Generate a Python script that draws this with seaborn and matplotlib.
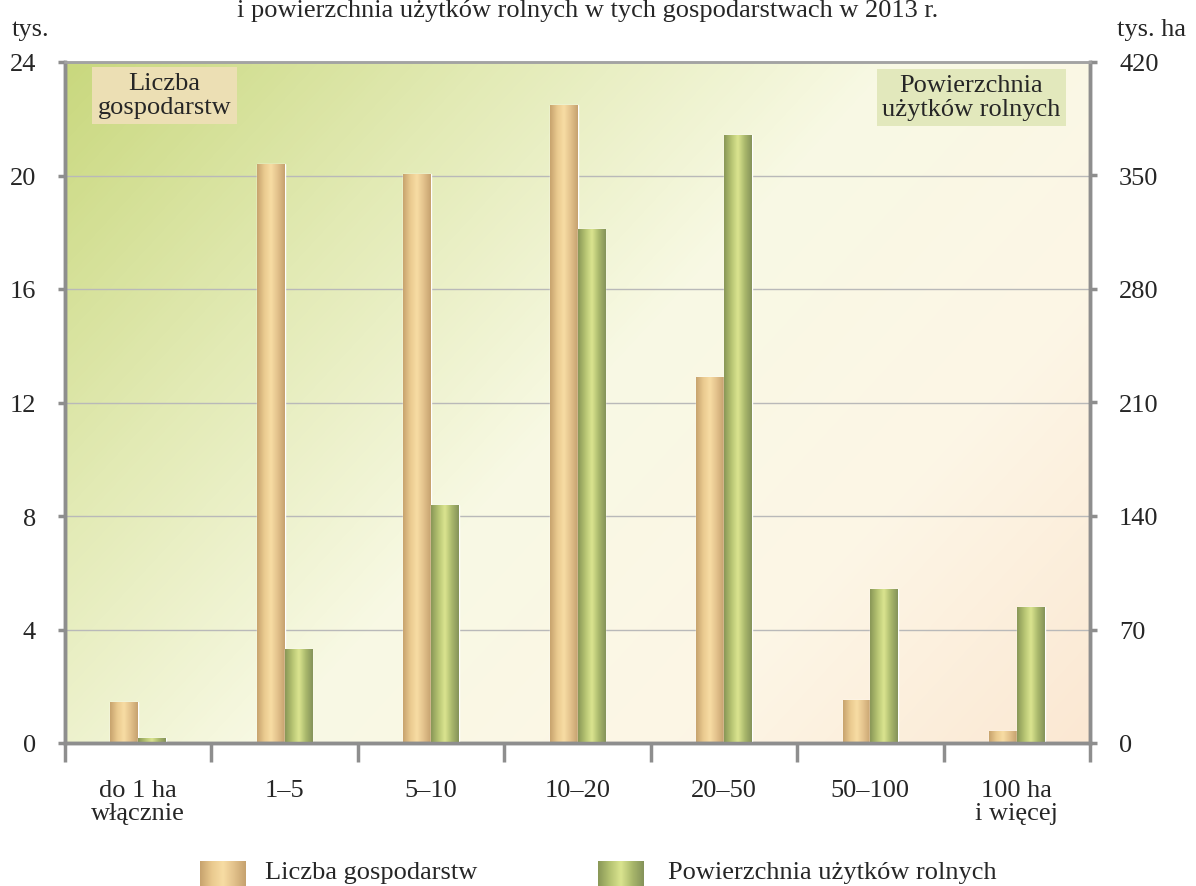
import numpy as np
import pandas as pd
import matplotlib.pyplot as plt
import seaborn as sns
from matplotlib.colors import LinearSegmentedColormap

# dane
kategorie = ['do 1 ha\nwłącznie', '1–5', '5–10', '10–20', '20–50', '50–100', '100 ha\ni więcej']
liczba_gosp = [1.45, 20.4, 20.05, 22.5, 12.9, 1.5, 0.42]      # tys.
powierzchnia = [3, 58, 147, 317, 375, 95, 84]                  # tys. ha
ticki_lewe = [0, 4, 8, 12, 16, 20, 24]
ticki_prawe = [0, 70, 140, 210, 280, 350, 420]
serie = ['Liczba gospodarstw', 'Powierzchnia użytków rolnych']

tytul = 'i powierzchnia użytków rolnych w tych gospodarstwach w 2013 r.'

GRAD_TAN = ['#c7a36e', '#e9c98e', '#f8dda4', '#e2c18b', '#c6a26f']
GRAD_GREEN = ['#899757', '#b4c271', '#dbe590', '#aab86c', '#85935a']
BG_STOPS = ['#c9d87e', '#e2eab4', '#f8f9e4', '#fdf6e6', '#fbe8d3']
SPINE = '#8e8e8e'


def gradient_bars(axis, stops):
    cmap = LinearSegmentedColormap.from_list('bar', stops)
    grad = np.linspace(0, 1, 64).reshape(1, -1)
    for p in list(axis.patches):
        h = p.get_height()
        if not np.isfinite(h) or h <= 0:
            continue
        x0, y0, w = p.get_x(), p.get_y(), p.get_width()
        im = axis.imshow(grad, cmap=cmap, extent=[x0, x0 + w, y0, y0 + h],
                         aspect='auto', zorder=p.get_zorder() + 0.1,
                         interpolation='bicubic')
        im.set_clip_path(p)


def main():
    sns.set_style('white')
    plt.rcParams['font.family'] = ['Liberation Serif', 'DejaVu Serif']
    fs = 19

    fig = plt.figure(figsize=(11.96, 8.87), dpi=100)
    ax = fig.add_axes([65 / 1196, 1 - 744 / 887, 1025 / 1196, 681 / 887])

    # tło z gradientem
    xx, yy = np.meshgrid(np.linspace(0, 1, 300), np.linspace(0, 1, 220))
    u = 0.62 * xx + 0.38 * yy
    bg_cmap = LinearSegmentedColormap.from_list('bg', BG_STOPS)
    ax.imshow(u, cmap=bg_cmap, extent=[0, 1, 0, 1], transform=ax.transAxes,
              aspect='auto', zorder=0, origin='upper', interpolation='bicubic')

    df_l = pd.DataFrame({'kat': kategorie * 2,
                         'seria': [serie[0]] * 7 + [serie[1]] * 7,
                         'wart': liczba_gosp + [0] * 7})
    df_p = pd.DataFrame({'kat': kategorie * 2,
                         'seria': [serie[0]] * 7 + [serie[1]] * 7,
                         'wart': [0] * 7 + powierzchnia})

    sns.barplot(data=df_l, x='kat', y='wart', hue='seria', order=kategorie,
                hue_order=serie, palette=['#e8c990', '#c3cf7e'], width=0.38,
                saturation=1, errorbar=None, legend=False, ax=ax, zorder=2)
    ax2 = ax.twinx()
    sns.barplot(data=df_p, x='kat', y='wart', hue='seria', order=kategorie,
                hue_order=serie, palette=['#e8c990', '#c3cf7e'], width=0.38,
                saturation=1, errorbar=None, legend=False, ax=ax2, zorder=2)

    gradient_bars(ax, GRAD_TAN)
    gradient_bars(ax2, GRAD_GREEN)

    for a in (ax, ax2):
        a.set_xlim(-0.5, 6.5)
        a.set_xlabel('')
        a.set_ylabel('')
    ax.set_ylim(0, 24)
    ax2.set_ylim(0, 420)
    ax.set_yticks(ticki_lewe)
    ax2.set_yticks(ticki_prawe)

    ax.set_axisbelow(True)
    ax.grid(axis='y', color='#b9b9b9', linewidth=1.0, zorder=0.5)
    ax.grid(axis='x', visible=False)
    ax2.grid(False)

    # etykiety kategorii w środku, kreski na granicach
    ax.set_xticks(range(len(kategorie)))
    ax.set_xticklabels(kategorie, fontsize=fs, linespacing=1.05)
    ax.set_xticks(np.arange(-0.5, 7, 1), minor=True)
    ax.tick_params(axis='x', which='major', length=0, pad=26)
    ax.tick_params(axis='x', which='minor', length=14, width=2.5,
                   color=SPINE, direction='out', bottom=True)
    ax.tick_params(axis='y', length=5, width=2.5, color=SPINE, direction='out',
                   labelsize=fs, pad=16, left=True)
    ax2.tick_params(axis='y', length=5, width=2.5, color=SPINE, direction='out',
                    labelsize=fs, pad=16, right=True)
    ax2.tick_params(axis='x', which='both', length=0, labelbottom=False)

    for a in (ax, ax2):
        for side in ('left', 'right', 'bottom'):
            a.spines[side].set_color(SPINE)
            a.spines[side].set_linewidth(2.5)
        a.spines['top'].set_color('#a3a3a3')
        a.spines['top'].set_linewidth(1.8)

    # opisy osi
    fig.text(12 / 1196, 1 - 30 / 887, 'tys.', fontsize=fs, va='center', ha='left')
    fig.text(1117 / 1196, 1 - 30 / 887, 'tys. ha', fontsize=fs, va='center', ha='left')

    # ramki z nazwami serii
    ax.text(0.097, 0.985, 'Liczba\ngospodarstw', transform=ax.transAxes,
            fontsize=fs, ha='center', va='top', linespacing=1.12, zorder=5,
            bbox=dict(boxstyle='square,pad=0.2', facecolor='#ecdfb4',
                      edgecolor='none'))
    ax.text(0.884, 0.982, 'Powierzchnia\nużytków rolnych', transform=ax.transAxes,
            fontsize=fs, ha='center', va='top', linespacing=1.12, zorder=5,
            bbox=dict(boxstyle='square,pad=0.2', facecolor='#e2e8bc',
                      edgecolor='none'))

    # tytuł
    fig.text(588 / 1196, 1.0, tytul, fontsize=fs, ha='center', va='top')

    # legenda
    leg_cmap_t = LinearSegmentedColormap.from_list('lt', GRAD_TAN)
    leg_cmap_g = LinearSegmentedColormap.from_list('lg', GRAD_GREEN)
    grad = np.linspace(0, 1, 64).reshape(1, -1)
    for x_sw, x_txt, cmap, label in [(200, 265, leg_cmap_t, serie[0]),
                                     (598, 668, leg_cmap_g, serie[1])]:
        sw = fig.add_axes([x_sw / 1196, 0, 46 / 1196, 25 / 887])
        sw.imshow(grad, cmap=cmap, aspect='auto', interpolation='bicubic')
        sw.axis('off')
        fig.text(x_txt / 1196, 1 - 873 / 887, label, fontsize=fs,
                 ha='left', va='center')

    fig.savefig('out.png', dpi=100)


if __name__ == '__main__':
    main()
